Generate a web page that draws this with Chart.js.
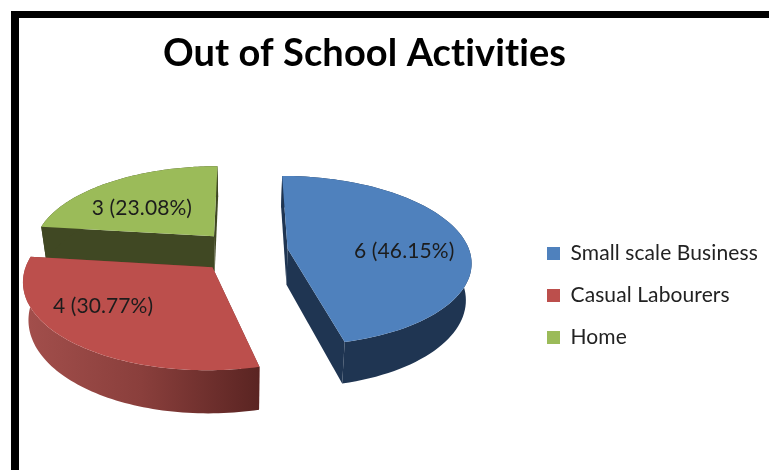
<!DOCTYPE html>
<html>
<head>
<meta charset="utf-8">
<script src="https://cdn.jsdelivr.net/npm/chart.js@4"></script>
<style>
html, body { margin: 0; padding: 0; background: #fff; overflow: hidden; }
#frame { position: absolute; left: 11px; top: 11px; right: 0; bottom: 0; border-left: 8px solid #000; border-top: 7px solid #000; }
#wrap { position: absolute; left: 0; top: 0; width: 769px; height: 470px; }
</style>
</head>
<body>
<div id="frame"></div>
<div id="wrap"><canvas id="pieChart" width="769" height="470"></canvas></div>
<script>
var categories = ['Small scale Business', 'Casual Labourers', 'Home'];
var values = [6, 4, 3];
var topColors = ['#4F81BD', '#BC4F4C', '#9BBB59'];
var wallColors = ['#1F3552', '#7A3230', '#404823'];

// look of the 3D pie
var TILT = 0.46;
var PERSP = 0.14;
var DEPTH = 36;
var BASE_SHRINK = 0.975;
var EXPLODE = 45;
// label spot of each slice, relative to its tip, in radius units
var labelSpots = [[0.64, 0.03], [-0.54, 0.42], [-0.435, -0.37]];

var total = values.reduce(function (a, b) { return a + b; }, 0);

function project(arc, u, v, low) {
    var s = 1 / (1 - PERSP * v);
    var R = arc.outerRadius;
    var x = R * u * s;
    var y = R * TILT * v * s;
    if (low) {
        x = x * BASE_SHRINK;
        y = y + DEPTH * s;
    }
    return { x: arc.x + x, y: arc.y + y };
}

function sliceInfo(arc) {
    var mid = (arc.startAngle + arc.endAngle) / 2;
    var e = EXPLODE / arc.outerRadius;
    return { ou: Math.cos(mid) * e, ov: Math.sin(mid) * e };
}

function rimPoints(arc, low) {
    var inf = sliceInfo(arc);
    var pts = [];
    var steps = 80;
    for (var i = 0; i <= steps; i++) {
        var a = arc.startAngle + (arc.endAngle - arc.startAngle) * i / steps;
        pts.push(project(arc, inf.ou + Math.cos(a), inf.ov + Math.sin(a), low));
    }
    return pts;
}

function fillPoly(ctx, pts, color) {
    ctx.beginPath();
    pts.forEach(function (p, i) {
        if (i == 0) ctx.moveTo(p.x, p.y);
        else ctx.lineTo(p.x, p.y);
    });
    ctx.closePath();
    ctx.fillStyle = color;
    ctx.fill();
}

function wallFill(ctx, index, top) {
    if (index != 1) return wallColors[index];
    // the red rim goes darker to the right
    var xs = top.map(function (p) { return p.x; });
    var g = ctx.createLinearGradient(Math.min.apply(null, xs), 0, Math.max.apply(null, xs), 0);
    g.addColorStop(0, '#A34F4C');
    g.addColorStop(0.5, '#8A3F3C');
    g.addColorStop(1, '#5A2422');
    return g;
}

var pie3d = {
    id: 'pie3d',
    afterLayout: function (chart) {
        // legend and title sit apart from the pie
        chart.legend.left = 526;
        chart.legend.right = 769;
        chart.legend.top += 72;
        chart.legend.bottom += 72;
        chart.titleBlock.right = 729;
    },
    beforeDraw: function (chart) {
        // keeps "ti" as two letters
        chart.ctx.letterSpacing = '0.1px';
    },
    beforeDatasetDraw: function (chart, args) {
        var ctx = chart.ctx;
        var arcs = args.meta.data;
        // back slice first
        [2, 0, 1].forEach(function (i) {
            var arc = arcs[i];
            var inf = sliceInfo(arc);
            var top = rimPoints(arc, false);
            var low = rimPoints(arc, true);
            var tipTop = project(arc, inf.ou, inf.ov, false);
            var tipLow = project(arc, inf.ou, inf.ov, true);
            var last = top.length - 1;
            fillPoly(ctx, [tipTop, top[0], low[0], tipLow], wallColors[i]);
            fillPoly(ctx, [tipTop, top[last], low[last], tipLow], wallColors[i]);
            fillPoly(ctx, top.concat(low.slice().reverse()), wallFill(ctx, i, top));
            fillPoly(ctx, [tipTop].concat(top), arc.options.backgroundColor);
        });
        ctx.font = '21px Lato';
        ctx.fillStyle = '#1c1c1c';
        ctx.textAlign = 'center';
        ctx.textBaseline = 'middle';
        arcs.forEach(function (arc, i) {
            var inf = sliceInfo(arc);
            var spot = project(arc, inf.ou + labelSpots[i][0], inf.ov + labelSpots[i][1], false);
            var pct = (values[i] / total * 100).toFixed(2);
            ctx.fillText(values[i] + ' (' + pct + '%)', spot.x, spot.y);
        });
        return false;
    }
};

var ctx = document.getElementById('pieChart').getContext('2d');
var myChart = new Chart(ctx, {
    type: 'pie',
    data: {
        labels: categories,
        datasets: [{
            data: values,
            backgroundColor: topColors,
            borderWidth: 0
        }]
    },
    options: {
        responsive: false,
        animation: false,
        rotation: 0,
        radius: 182,
        layout: { padding: { left: 0, right: 43, top: 31, bottom: 54 } },
        plugins: {
            title: {
                display: true,
                text: 'Out of School Activities',
                color: '#000',
                font: { family: 'Lato', size: 38, weight: 'bold' },
                padding: { top: 0, bottom: 10 }
            },
            legend: {
                position: 'right',
                labels: {
                    color: '#222',
                    font: { family: 'Lato', size: 21 },
                    boxWidth: 13,
                    boxHeight: 13,
                    padding: 21
                }
            },
            tooltip: { enabled: false }
        }
    },
    plugins: [pie3d]
});
</script>
</body>
</html>
